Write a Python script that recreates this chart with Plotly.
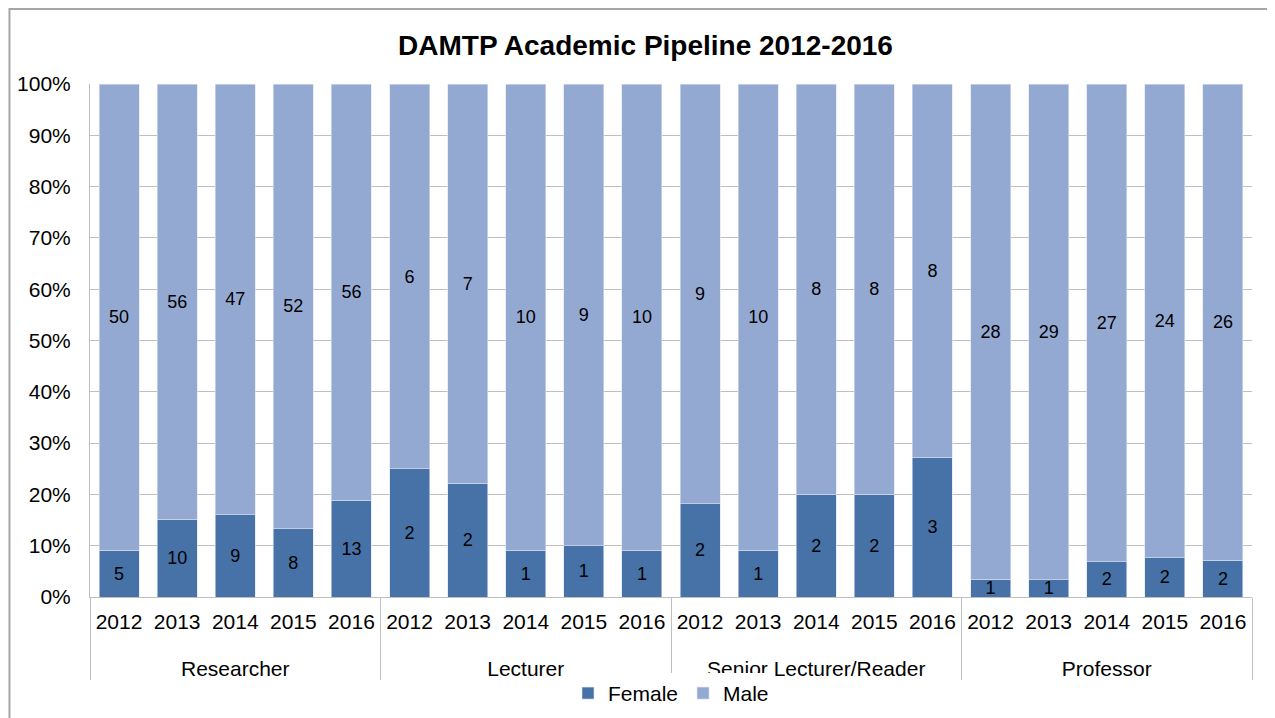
import plotly.graph_objects as go

# --- data ---
roles = ["Researcher", "Lecturer", "Senior Lecturer/Reader", "Professor"]
years = ["2012", "2013", "2014", "2015", "2016"]
female = [5, 10, 9, 8, 13,
          2, 2, 1, 1, 1,
          2, 1, 2, 2, 3,
          1, 1, 2, 2, 2]
male = [50, 56, 47, 52, 56,
        6, 7, 10, 9, 10,
        9, 10, 8, 8, 8,
        28, 29, 27, 24, 26]

# leading <br> pushes the group row a bit further below the year row
x_groups = ["<br>" + r for r in roles for _ in years]
x_years = [y for _ in roles for y in years]

FONT = "Liberation Sans, Arial, sans-serif"

fig = go.Figure()
fig.add_trace(go.Bar(
    x=[x_groups, x_years], y=female, name="Female",
    marker=dict(color="#4672A8", line=dict(color="#DCE3F0", width=0.6)),
    text=female, textposition="inside", insidetextanchor="middle",
    textangle=0, constraintext="none",
    textfont=dict(size=18, color="black", family=FONT),
))
fig.add_trace(go.Bar(
    x=[x_groups, x_years], y=male, name="Male",
    marker=dict(color="#94A9D2", line=dict(color="#DCE3F0", width=0.6)),
    text=male, textposition="inside", insidetextanchor="middle",
    textangle=0, constraintext="none",
    textfont=dict(size=19, color="black", family=FONT),
))

# page body adds an 8px offset, margins compensate for it
fig.update_layout(
    width=1275, height=718,
    barmode="stack", barnorm="percent", bargap=0.31,
    plot_bgcolor="white", paper_bgcolor="white",
    font=dict(family=FONT, size=21, color="black"),
    margin=dict(l=82, r=31, t=76, b=129),
    uniformtext=dict(minsize=16, mode="show"),
    title=dict(text="<b>DAMTP Academic Pipeline 2012-2016</b>",
               x=0.5, xanchor="center", y=0.948, yanchor="middle",
               font=dict(size=28, family=FONT)),
    legend=dict(orientation="h", x=0.5, xanchor="center", y=-0.148, yanchor="top",
                font=dict(size=21), traceorder="normal", itemwidth=30),
    showlegend=True,
)

fig.update_yaxes(
    range=[0, 100], dtick=10, ticksuffix="%", automargin=False,
    showgrid=True, gridcolor="#BFBFBF", gridwidth=1,
    showline=True, linecolor="#BFBFBF", linewidth=1,
    ticks="", ticklabelstandoff=14, zeroline=False,
    tickfont=dict(size=21),
)
fig.update_xaxes(
    type="multicategory", automargin=False,
    showline=True, linecolor="#BFBFBF", linewidth=1,
    showdividers=True, dividercolor="#BFBFBF", dividerwidth=1,
    tickfont=dict(size=21), ticks="", ticklabelstandoff=6,
)

# outer chart frame
fig.add_shape(type="rect", xref="paper", yref="paper",
              x0=-0.0693, x1=1.0164, y0=-0.3, y1=1.146,
              line=dict(color="#A6A6A6", width=2), layer="below")

fig.write_html("out.html")
